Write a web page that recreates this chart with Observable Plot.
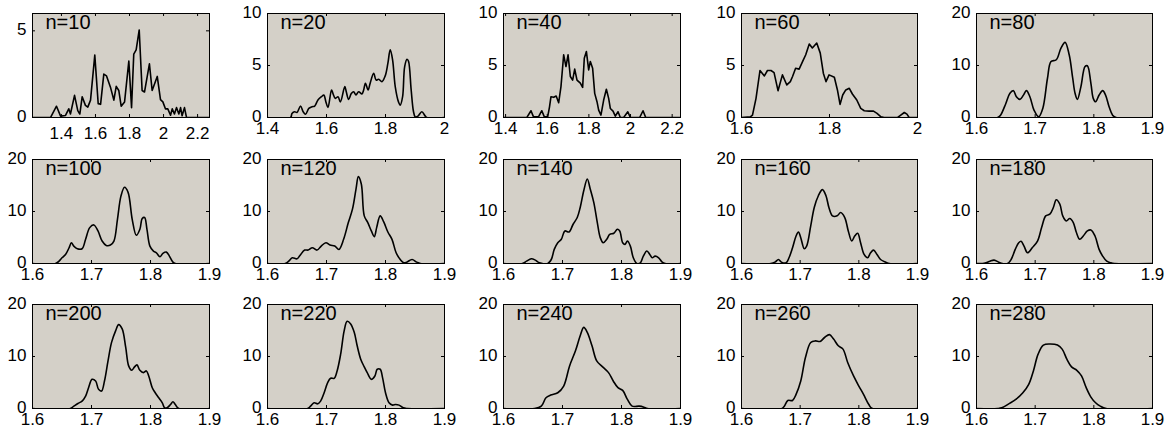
<!DOCTYPE html>
<html>
<head>
<meta charset="utf-8">
<script src="https://cdn.jsdelivr.net/npm/d3@7"></script>
<script src="https://cdn.jsdelivr.net/npm/@observablehq/plot@0.6"></script>
<style>
  html, body { margin: 0; padding: 0; background: #ffffff; }
  #wrap { position: relative; width: 1172px; height: 437px; overflow: hidden; }
  #wrap > svg { position: absolute; }
</style>
</head>
<body>
<div id="wrap"></div>
<script>
// ---- Data: density curves, [x, density] ----
const labels = ["n=10","n=20","n=40","n=60","n=80","n=100","n=120","n=140","n=160","n=180","n=200","n=220","n=240","n=260","n=280"];

const n10 = [[1.230,0],[1.336,0],[1.371,0.65],[1.395,0.08],[1.424,0.12],[1.443,0.5],[1.453,0.2],[1.477,1.28],[1.496,0.4],[1.508,0.2],[1.522,1.2],[1.541,0.7],[1.555,0.6],[1.571,1.0],[1.596,3.6],[1.616,0.8],[1.630,0.76],[1.649,2.5],[1.665,2.4],[1.688,1.75],[1.708,1.0],[1.722,1.8],[1.737,1.56],[1.751,0.65],[1.771,0.9],[1.796,3.25],[1.812,0.57],[1.825,3.66],[1.839,3.9],[1.857,5.05],[1.874,1.56],[1.888,1.47],[1.917,3.1],[1.933,1.56],[1.963,2.37],[1.982,1.03],[1.996,0.9],[2.011,0.5],[2.025,0.5],[2.041,0.13],[2.051,0.5],[2.064,0.2],[2.076,0.57],[2.090,0.2],[2.100,0.57],[2.109,0.1],[2.123,0.57],[2.135,0],[2.270,0]];

const n20 = [[1.400,0],[1.478,0],[1.483,0.39],[1.492,0.55],[1.500,0.48],[1.512,1.1],[1.521,0.55],[1.529,0.32],[1.540,0.87],[1.551,1.03],[1.560,1.1],[1.571,1.68],[1.583,2.0],[1.591,2.16],[1.598,1.5],[1.605,0.97],[1.617,2.65],[1.622,2.3],[1.630,1.84],[1.639,2.0],[1.647,1.5],[1.662,2.97],[1.667,2.48],[1.675,1.74],[1.684,2.3],[1.692,2.48],[1.700,2.16],[1.709,2.48],[1.720,2.26],[1.726,2.65],[1.732,3.3],[1.741,2.65],[1.748,3.3],[1.760,4.26],[1.768,3.6],[1.777,3.68],[1.788,3.45],[1.799,4.0],[1.808,5.2],[1.816,6.5],[1.824,5.55],[1.833,2.97],[1.844,1.5],[1.850,1.19],[1.858,2.0],[1.865,4.9],[1.873,5.6],[1.878,5.4],[1.887,2.65],[1.895,0.55],[1.901,0.06],[1.910,0.13],[1.923,0.55],[1.935,0.13],[1.940,0],[2.000,0]];

const n40 = [[1.390,0],[1.502,0],[1.522,0.65],[1.534,0.06],[1.558,0.06],[1.574,0.65],[1.586,0.06],[1.602,0.06],[1.611,1.03],[1.618,2.0],[1.631,1.94],[1.643,2.06],[1.655,1.42],[1.666,2.97],[1.679,6.03],[1.690,4.9],[1.700,6.03],[1.711,3.94],[1.722,3.6],[1.732,4.65],[1.743,3.6],[1.759,3.3],[1.770,2.9],[1.778,5.7],[1.788,6.35],[1.799,4.58],[1.807,5.39],[1.818,4.74],[1.828,2.32],[1.839,1.52],[1.847,0.71],[1.858,0.23],[1.871,1.68],[1.884,2.71],[1.895,1.84],[1.903,0.87],[1.916,0.61],[1.927,0.13],[1.940,0.55],[1.951,0],[1.967,0],[1.987,0.55],[1.999,0],[2.044,0],[2.060,0.65],[2.073,0],[2.240,0]];

const n60 = [[1.600,0],[1.620,0.06],[1.625,0.23],[1.633,1.84],[1.642,4.52],[1.652,4.0],[1.659,4.52],[1.667,4.52],[1.674,4.32],[1.683,2.58],[1.693,4.1],[1.703,3.13],[1.711,3.45],[1.716,3.94],[1.723,4.74],[1.731,4.65],[1.739,5.39],[1.746,6.03],[1.754,7.06],[1.761,6.68],[1.771,7.16],[1.779,6.19],[1.786,4.26],[1.792,3.45],[1.799,4.1],[1.811,3.87],[1.818,2.65],[1.824,1.26],[1.830,2.16],[1.837,2.65],[1.845,2.81],[1.852,2.26],[1.862,1.68],[1.871,0.87],[1.879,0.65],[1.890,0.61],[1.900,0.61],[1.908,0.39],[1.917,0.06],[1.924,0],[1.955,0],[1.962,0.23],[1.970,0.48],[1.976,0.32],[1.981,0],[2.000,0]];

const n80 = [[1.600,0],[1.636,0],[1.641,0.45],[1.650,2.7],[1.657,4.65],[1.663,5.16],[1.668,4.0],[1.674,3.48],[1.680,4.3],[1.685,5.16],[1.691,4.0],[1.698,1.42],[1.706,0.13],[1.713,1.74],[1.721,7.55],[1.727,10.77],[1.736,11.1],[1.744,13.35],[1.751,14.45],[1.758,12.06],[1.764,7.55],[1.768,4.65],[1.772,3.48],[1.778,5.94],[1.785,9.8],[1.789,9.94],[1.795,6.58],[1.799,3.68],[1.803,3.03],[1.809,4.32],[1.815,5.16],[1.820,4.32],[1.826,2.06],[1.832,0.45],[1.838,0],[1.900,0]];

const n100 = [[1.600,0],[1.639,0],[1.645,0.45],[1.650,1.1],[1.656,1.74],[1.662,3.03],[1.666,4.0],[1.670,3.35],[1.676,2.84],[1.684,2.84],[1.690,4.65],[1.697,6.9],[1.704,7.42],[1.711,6.26],[1.718,4.32],[1.725,3.48],[1.732,3.55],[1.738,4.32],[1.744,8.5],[1.750,13.0],[1.756,14.65],[1.762,13.68],[1.769,8.5],[1.776,5.42],[1.782,6.58],[1.786,8.65],[1.790,8.84],[1.794,6.58],[1.799,3.35],[1.805,2.39],[1.810,2.06],[1.816,1.29],[1.821,1.94],[1.827,2.19],[1.832,1.42],[1.838,0.26],[1.842,0],[1.900,0]];

const n120 = [[1.600,0],[1.630,0],[1.636,0.45],[1.642,1.1],[1.650,0.9],[1.655,1.55],[1.663,2.58],[1.669,2.58],[1.676,3.03],[1.684,2.58],[1.691,3.35],[1.699,4.0],[1.706,3.55],[1.714,3.35],[1.721,2.71],[1.729,4.65],[1.737,7.87],[1.744,10.45],[1.750,14.32],[1.754,16.7],[1.759,15.3],[1.764,9.16],[1.770,7.87],[1.776,6.26],[1.781,5.16],[1.785,6.9],[1.791,9.16],[1.797,8.0],[1.804,6.06],[1.811,4.65],[1.818,2.06],[1.825,0.77],[1.831,0.13],[1.836,0.26],[1.845,0.77],[1.853,0.26],[1.859,0],[1.900,0]];

const n140 = [[1.600,0],[1.632,0],[1.639,0.45],[1.647,0.9],[1.654,0.65],[1.661,0.13],[1.675,0],[1.681,0.77],[1.686,2.71],[1.692,4.0],[1.698,4.65],[1.704,6.26],[1.711,6.06],[1.718,7.55],[1.725,8.84],[1.730,10.77],[1.736,14.0],[1.742,16.26],[1.747,14.32],[1.753,11.74],[1.759,7.87],[1.764,4.97],[1.769,4.0],[1.775,4.65],[1.780,5.61],[1.787,5.81],[1.793,6.58],[1.797,6.26],[1.802,4.0],[1.806,3.68],[1.810,4.32],[1.815,3.35],[1.820,1.1],[1.826,0],[1.832,0.13],[1.837,1.42],[1.843,2.39],[1.848,1.74],[1.852,1.1],[1.857,1.42],[1.863,1.1],[1.869,0.26],[1.874,0],[1.900,0]];

const n160 = [[1.600,0],[1.650,0],[1.657,0.26],[1.663,0.77],[1.668,0.26],[1.676,0.13],[1.681,1.1],[1.687,3.03],[1.693,5.29],[1.697,6.06],[1.701,4.97],[1.707,2.84],[1.711,3.35],[1.718,7.23],[1.724,10.77],[1.731,13.03],[1.738,14.2],[1.744,13.03],[1.749,10.77],[1.755,9.16],[1.763,9.16],[1.769,9.8],[1.776,8.84],[1.782,6.26],[1.788,4.32],[1.793,5.29],[1.798,5.81],[1.803,4.0],[1.809,1.74],[1.815,1.1],[1.820,2.06],[1.825,2.58],[1.831,1.74],[1.837,0.77],[1.846,0.26],[1.852,0],[1.900,0]];

const n180 = [[1.600,0],[1.610,0],[1.616,0.13],[1.623,0.45],[1.630,0.65],[1.638,0.26],[1.644,0],[1.653,0],[1.659,0.77],[1.666,2.71],[1.672,4.0],[1.676,4.26],[1.681,3.35],[1.687,2.06],[1.695,3.03],[1.704,4.32],[1.711,6.9],[1.718,9.16],[1.725,9.48],[1.731,10.77],[1.736,12.26],[1.742,11.42],[1.747,9.16],[1.753,8.19],[1.759,8.65],[1.765,7.87],[1.770,6.06],[1.776,4.65],[1.782,5.29],[1.789,6.26],[1.795,6.45],[1.802,5.29],[1.809,2.71],[1.815,1.42],[1.822,0.45],[1.829,0.13],[1.835,0],[1.900,0]];

const n200 = [[1.600,0],[1.664,0],[1.670,0.45],[1.677,0.97],[1.684,1.42],[1.690,2.39],[1.695,4.0],[1.701,5.61],[1.707,5.29],[1.712,3.68],[1.717,3.35],[1.722,5.29],[1.728,9.16],[1.734,12.71],[1.741,14.97],[1.746,16.13],[1.752,15.3],[1.758,11.74],[1.763,8.19],[1.768,7.35],[1.773,8.0],[1.777,8.39],[1.782,7.35],[1.788,6.9],[1.793,7.23],[1.797,6.26],[1.803,4.0],[1.808,3.03],[1.814,2.06],[1.820,1.1],[1.824,0.13],[1.828,0.13],[1.834,0.77],[1.838,1.29],[1.842,0.77],[1.848,0],[1.900,0]];

const n220 = [[1.600,0],[1.668,0],[1.673,0.45],[1.679,1.1],[1.685,0.9],[1.690,1.42],[1.696,3.03],[1.702,4.97],[1.707,5.81],[1.713,5.81],[1.718,7.23],[1.724,10.45],[1.730,14.97],[1.735,16.77],[1.741,16.26],[1.747,14.65],[1.752,12.06],[1.758,9.48],[1.764,8.0],[1.769,6.9],[1.776,5.61],[1.782,6.26],[1.786,7.55],[1.791,7.55],[1.795,5.94],[1.800,3.03],[1.806,1.1],[1.812,0.65],[1.817,0.77],[1.823,0.65],[1.830,0.13],[1.837,0],[1.900,0]];

const n240 = [[1.600,0],[1.652,0],[1.664,0.45],[1.672,2.06],[1.680,2.58],[1.692,3.03],[1.702,4.32],[1.712,8.19],[1.722,11.1],[1.730,14.0],[1.736,15.6],[1.742,14.65],[1.750,12.06],[1.758,9.16],[1.768,8.0],[1.778,6.9],[1.786,5.29],[1.794,4.0],[1.802,3.48],[1.810,1.74],[1.818,0.45],[1.830,0.45],[1.838,0.26],[1.844,0],[1.900,0]];

const n260 = [[1.600,0],[1.669,0],[1.673,0.45],[1.679,1.55],[1.687,1.55],[1.693,2.71],[1.701,5.29],[1.709,9.8],[1.718,12.7],[1.726,13.0],[1.734,12.9],[1.742,13.7],[1.750,14.2],[1.757,13.35],[1.765,12.06],[1.773,11.42],[1.781,8.84],[1.791,6.26],[1.800,4.32],[1.808,2.71],[1.817,0.77],[1.823,0],[1.900,0]];

const n280 = [[1.600,0],[1.636,0],[1.643,0.13],[1.655,0.9],[1.667,1.74],[1.679,3.03],[1.689,4.65],[1.697,7.23],[1.705,10.45],[1.714,12.2],[1.726,12.4],[1.738,12.2],[1.746,11.42],[1.754,9.48],[1.762,8.0],[1.771,7.35],[1.779,6.26],[1.787,4.0],[1.795,2.19],[1.803,1.1],[1.811,0.45],[1.821,0],[1.900,0]];

const curves = [n10,n20,n40,n60,n80,n100,n120,n140,n160,n180,n200,n220,n240,n260,n280];

// axis domains and tick labels
const xDomains = [[1.23,2.27],[1.4,2.0],[1.39,2.24],[1.6,2.0]];
const xTicksRow1 = [[1.4,1.6,1.8,2,2.2],[1.4,1.6,1.8,2],[1.4,1.6,1.8,2,2.2],[1.6,1.8,2],[1.6,1.7,1.8,1.9]];
const xTicksStd = [1.6,1.7,1.8,1.9];
const yDomains = [[0,6],[0,10],[0,10],[0,10]];
const yTicksRow1 = [[0,5],[0,5,10],[0,5,10],[0,5,10],[0,10,20]];
const yTicksStd = [0,10,20];

// ---- Layout ----
const colLeft = [32, 267, 503, 741, 976];
const colWidth = [177, 177, 177, 176, 176];
const rowTop = [13, 159, 304];
const boxH = 104;
const ML = 34, MT = 13, MR = 28, MB = 30;
const jagged = new Set([0, 2, 3]);
const fmt = d => String(Math.round(d * 10) / 10);

const wrap = document.getElementById("wrap");

curves.forEach((data, i) => {
  const r = Math.floor(i / 5), c = i % 5;
  const w = colWidth[c];
  const xd = i < 4 ? xDomains[i] : [1.6, 1.9];
  const yd = i < 4 ? yDomains[i] : [0, 20];
  const xt = i < 5 ? xTicksRow1[i] : xTicksStd;
  const yt = i < 5 ? yTicksRow1[i] : yTicksStd;
  const tl = 3;
  const svg = Plot.plot({
    width: ML + w + MR,
    height: MT + boxH + MB,
    marginLeft: ML, marginTop: MT, marginRight: MR, marginBottom: MB,
    style: {fontFamily: "'Liberation Sans', Arial, Helvetica, sans-serif", fontSize: "17px", color: "#000", background: "transparent", overflow: "visible"},
    x: {domain: xd},
    y: {domain: yd},
    marks: [
      Plot.frame({fill: "#d4d0c8"}),
      Plot.line(data, {x: d => d[0], y: d => d[1], stroke: "#000", strokeWidth: 1.6,
        curve: jagged.has(i) ? "linear" : "catmull-rom", clip: true}),
      Plot.tickX(xt, {x: d => d, insetTop: boxH - tl, stroke: "#000"}),
      Plot.tickX(xt, {x: d => d, insetBottom: boxH - tl, stroke: "#000"}),
      Plot.tickY(yt, {y: d => d, insetRight: w - tl, stroke: "#000"}),
      Plot.tickY(yt, {y: d => d, insetLeft: w - tl, stroke: "#000"}),
      Plot.frame({stroke: "#000", strokeWidth: 1}),
      Plot.axisX({ticks: xt, tickSize: 0, tickPadding: i === 0 ? 9 : 4, tickFormat: fmt, fontSize: 17, fill: "#000"}),
      Plot.axisY({ticks: yt, tickSize: 0, tickPadding: 6, dy: -1, tickFormat: fmt, fontSize: 17, fill: "#000"}),
      Plot.text([labels[i]], {text: d => d, frameAnchor: "top-left", dx: 13, dy: 15, textAnchor: "start", lineAnchor: "bottom", fontSize: 20, fill: "#000"})
    ]
  });
  svg.style.left = (colLeft[c] - ML) + "px";
  svg.style.top = (rowTop[r] - MT) + "px";
  wrap.appendChild(svg);
});
</script>
</body>
</html>
